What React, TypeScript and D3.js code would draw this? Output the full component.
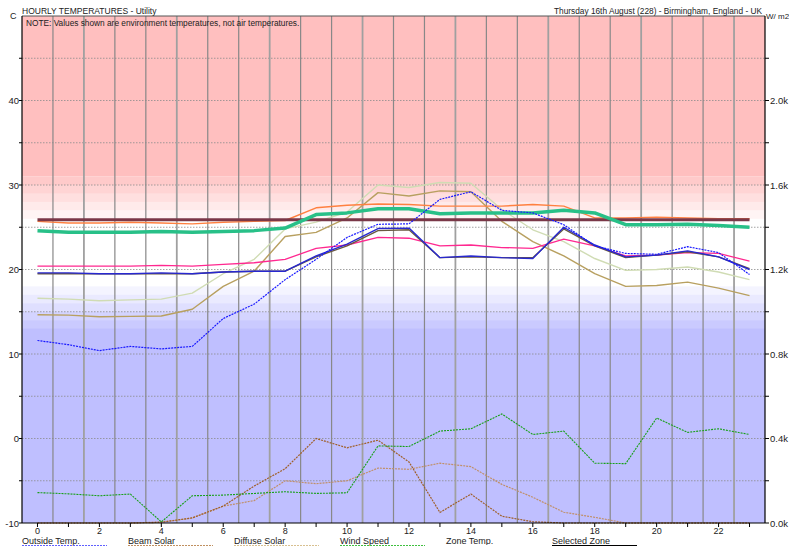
import React, { useEffect, useRef } from "react";
import * as d3 from "d3";

// hours of the day
const hours = [0, 1, 2, 3, 4, 5, 6, 7, 8, 9, 10, 11, 12, 13, 14, 15, 16, 17, 18, 19, 20, 21, 22, 23];
const xTickLabels = [0, 2, 4, 6, 8, 10, 12, 14, 16, 18, 20, 22];
const leftTickLabels = [-10, 0, 10, 20, 30, 40];
const rightTickLabels = [0, 0.4, 0.8, 1.2, 1.6, 2.0];

// temperatures (C)
const outsideTemp = [11.6, 11.1, 10.4, 10.9, 10.6, 10.9, 14.2, 15.9, 18.8, 21.2, 23.8, 25.35, 25.4, 28.3, 29.2, 27.0, 26.7, 25.3, 22.8, 21.9, 21.8, 22.7, 22.0, 19.4];
const zoneMaroon = [25.9, 25.9, 25.9, 25.9, 25.9, 25.9, 25.9, 25.9, 25.9, 25.9, 25.9, 25.9, 25.9, 25.9, 25.9, 25.9, 25.9, 25.9, 25.9, 25.9, 25.9, 25.9, 25.9, 25.9];
const zoneOrange = [25.7, 25.5, 25.5, 25.6, 25.5, 25.4, 25.6, 25.7, 25.8, 27.3, 27.6, 27.75, 27.7, 27.5, 27.5, 27.5, 27.7, 27.5, 26.1, 26.1, 26.2, 26.1, 26.0, 26.0];
const zoneGreen = [24.6, 24.4, 24.4, 24.4, 24.5, 24.4, 24.5, 24.6, 24.9, 26.5, 26.7, 27.2, 27.2, 26.6, 26.7, 26.7, 26.7, 27.0, 26.7, 25.3, 25.3, 25.35, 25.2, 25.0];
const zonePink = [20.4, 20.4, 20.4, 20.4, 20.5, 20.4, 20.6, 20.8, 21.2, 22.5, 22.9, 23.8, 23.7, 22.8, 22.9, 22.6, 22.5, 23.6, 22.8, 21.6, 21.7, 22.0, 21.9, 21.0];
const zonePale = [16.6, 16.5, 16.3, 16.4, 16.5, 17.2, 19.5, 21.2, 24.8, 25.6, 26.8, 30.0, 29.7, 30.3, 30.2, 27.1, 24.7, 23.3, 21.3, 19.9, 20.0, 20.3, 19.7, 18.8];
const zoneKhaki = [14.65, 14.6, 14.4, 14.45, 14.5, 15.3, 18.0, 19.8, 23.9, 24.4, 26.1, 29.1, 28.7, 29.3, 29.2, 25.7, 23.3, 21.6, 19.5, 18.0, 18.1, 18.5, 17.8, 16.9];
const zoneNavy = [19.6, 19.6, 19.5, 19.5, 19.6, 19.5, 19.7, 19.8, 19.8, 21.6, 23.0, 24.85, 24.9, 21.4, 21.6, 21.4, 21.3, 25.0, 22.9, 21.5, 21.7, 22.2, 21.5, 20.0];
const selectedZone = [19.5, 19.5, 19.5, 19.5, 19.5, 19.5, 19.7, 19.8, 19.8, 21.5, 22.8, 24.6, 24.7, 21.4, 21.5, 21.4, 21.4, 24.8, 22.8, 21.4, 21.7, 22.1, 21.5, 20.1];

// W/m2 (k)
const beamSolar = [0, 0, 0, 0, 0.003, 0.024, 0.08, 0.175, 0.257, 0.4, 0.356, 0.392, 0.289, 0.05, 0.137, 0.032, 0.006, 0, 0, 0, 0, 0, 0, 0];
const diffuseSolar = [0, 0, 0, 0, 0.005, 0.024, 0.08, 0.106, 0.2, 0.186, 0.2, 0.26, 0.254, 0.283, 0.267, 0.183, 0.122, 0.051, 0.027, 0, 0, 0, 0, 0];
const windSpeed = [0.144, 0.138, 0.129, 0.137, 0.005, 0.129, 0.132, 0.14, 0.148, 0.14, 0.143, 0.365, 0.362, 0.435, 0.446, 0.516, 0.419, 0.435, 0.283, 0.281, 0.497, 0.429, 0.446, 0.419];

const legendItems = [
  { label: "Outside Temp.", color: "#6060ff", dash: "2,1" },
  { label: "Beam Solar", color: "#c09060", dash: "2,1" },
  { label: "Diffuse Solar", color: "#d8c090", dash: "2,1" },
  { label: "Wind Speed", color: "#40c040", dash: "2,1" },
  { label: "Zone Temp.", color: "#ffffff", dash: null },
  { label: "Selected Zone", color: "#000000", dash: null },
];

const FONT = "'Liberation Sans', Arial, sans-serif";

const App = () => {
  const chartRef = useRef<SVGSVGElement>(null);

  useEffect(() => {
    const width = 789;
    const height = 546;
    const left = 22;
    const right = 765;
    const top = 16;
    const bottom = 523;

    const svg = d3.select(chartRef.current).attr("width", width).attr("height", height);
    svg.selectAll("*").remove();

    const x = d3.scaleLinear().domain([-0.5, 23.5]).range([left, right]);
    const y = d3.scaleLinear().domain([-10, 50]).range([bottom, top]);
    const yR = d3.scaleLinear().domain([0, 2.4]).range([bottom, top]);

    // background bands
    const pink = "#ffbfbf";
    const blue = "#bfbfff";
    svg.append("rect")
      .attr("x", left).attr("y", y(50))
      .attr("width", right - left).attr("height", y(31) - y(50))
      .attr("fill", pink);
    for (let k = 0; k < 5; k++) {
      svg.append("rect")
        .attr("x", left).attr("y", y(31 - k))
        .attr("width", right - left).attr("height", y(30 - k) - y(31 - k) + 0.5)
        .attr("fill", d3.interpolateRgb("#ffffff", pink)((5 - k) / 6));
    }
    svg.append("rect")
      .attr("x", left).attr("y", y(26))
      .attr("width", right - left).attr("height", y(18) - y(26))
      .attr("fill", "#ffffff");
    for (let k = 0; k < 5; k++) {
      svg.append("rect")
        .attr("x", left).attr("y", y(18 - k))
        .attr("width", right - left).attr("height", y(17 - k) - y(18 - k) + 0.5)
        .attr("fill", d3.interpolateRgb("#ffffff", blue)((k + 1) / 6));
    }
    svg.append("rect")
      .attr("x", left).attr("y", y(13))
      .attr("width", right - left).attr("height", y(-10) - y(13))
      .attr("fill", blue);

    // horizontal dotted grid
    d3.range(-5, 50, 5).forEach((v) => {
      svg.append("line")
        .attr("x1", left).attr("x2", right)
        .attr("y1", y(v)).attr("y2", y(v))
        .attr("stroke", "#8c8c8c")
        .attr("stroke-width", 0.8)
        .attr("stroke-dasharray", "1.5,1.5");
    });

    // vertical grid at half hours
    hours.slice(0, 23).forEach((h, i) => {
      svg.append("line")
        .attr("x1", x(h + 0.5)).attr("x2", x(h + 0.5))
        .attr("y1", top).attr("y2", bottom)
        .attr("stroke", i % 3 === 1 ? "#a0a0a0" : "#888888")
        .attr("stroke-width", i % 3 === 1 ? 1.8 : 1.2);
    });

    // right axis series
    const lineR = d3.line<number>().x((d, i) => x(hours[i])).y((d) => yR(d));
    const lineT = d3.line<number>().x((d, i) => x(hours[i])).y((d) => y(d));

    const drawR = (data: number[], color: string, w = 1) =>
      svg.append("path").datum(data)
        .attr("fill", "none").attr("stroke", color)
        .attr("stroke-width", w).attr("stroke-dasharray", "2,1")
        .attr("d", lineR);

    drawR(diffuseSolar, "#c0906a", 1.2);
    drawR(beamSolar, "#a0602a", 1.2);
    drawR(windSpeed, "#18a018", 1.1);

    const drawT = (data: number[], color: string, w = 1.2, dash: string | null = null) =>
      svg.append("path").datum(data)
        .attr("fill", "none").attr("stroke", color)
        .attr("stroke-width", w)
        .attr("stroke-dasharray", dash)
        .attr("stroke-linejoin", "round")
        .attr("d", lineT);

    drawT(zoneKhaki, "#b8a060", 1.4);
    drawT(zonePale, "#d0dcb4", 1.4);
    drawT(zonePink, "#ff2890", 1.3);
    drawT(zoneOrange, "#ff8040", 1.4);
    drawT(zoneMaroon, "#7a3848", 3);
    drawT(zoneGreen, "#28c088", 3.5);
    drawT(selectedZone, "#6a5a40", 1.4);
    drawT(zoneNavy, "#2828d0", 1.4);
    drawT(outsideTemp, "#1818ff", 1.2, "2,1");

    // frame
    svg.append("line").attr("x1", left).attr("x2", right).attr("y1", top).attr("y2", top)
      .attr("stroke", "#555").attr("stroke-width", 1);
    svg.append("line").attr("x1", left).attr("x2", left).attr("y1", top).attr("y2", bottom)
      .attr("stroke", "#000").attr("stroke-width", 1.2);
    svg.append("line").attr("x1", right).attr("x2", right).attr("y1", top).attr("y2", bottom)
      .attr("stroke", "#000").attr("stroke-width", 1.2);
    svg.append("line").attr("x1", left).attr("x2", right).attr("y1", bottom).attr("y2", bottom)
      .attr("stroke", "#000").attr("stroke-width", 1.2);

    // left axis
    d3.range(-10, 50, 5).forEach((v) => {
      svg.append("line").attr("x1", left - 3).attr("x2", left)
        .attr("y1", y(v)).attr("y2", y(v)).attr("stroke", "#000");
    });
    leftTickLabels.forEach((v) => {
      svg.append("text").attr("x", left - 3).attr("y", y(v) + 3.5)
        .attr("text-anchor", "end").attr("font-family", FONT).attr("font-size", 9.5)
        .attr("fill", "#222").text(v);
    });

    // right axis
    d3.range(0, 2.4, 0.2).forEach((v) => {
      svg.append("line").attr("x1", right).attr("x2", right + 4)
        .attr("y1", yR(v)).attr("y2", yR(v)).attr("stroke", "#000");
    });
    rightTickLabels.forEach((v) => {
      svg.append("text").attr("x", right + 5).attr("y", yR(v) + 3.5)
        .attr("font-family", FONT).attr("font-size", 9.5)
        .attr("fill", "#222").text(`${v.toFixed(1)}k`);
    });

    // bottom axis
    hours.forEach((h) => {
      svg.append("line").attr("x1", x(h)).attr("x2", x(h))
        .attr("y1", bottom).attr("y2", bottom + 4).attr("stroke", "#000");
    });
    xTickLabels.forEach((h) => {
      svg.append("text").attr("x", x(h)).attr("y", bottom + 10.5)
        .attr("text-anchor", "middle").attr("font-family", FONT).attr("font-size", 9)
        .attr("fill", "#222").text(h);
    });

    // header
    svg.append("text").attr("x", 10).attr("y", 19).attr("font-family", FONT)
      .attr("font-size", 9).attr("fill", "#222").text("C");
    svg.append("text").attr("x", 22).attr("y", 14).attr("font-family", FONT)
      .attr("font-size", 8.5).attr("fill", "#222").text("HOURLY TEMPERATURES - Utility");
    svg.append("text").attr("x", 26).attr("y", 26).attr("font-family", FONT)
      .attr("font-size", 8.3).attr("fill", "#222")
      .text("NOTE: Values shown are environment temperatures, not air temperatures.");
    svg.append("text").attr("x", 762).attr("y", 14).attr("text-anchor", "end")
      .attr("font-family", FONT).attr("font-size", 8.3).attr("fill", "#222")
      .text("Thursday 16th August (228) - Birmingham, England - UK");
    svg.append("text").attr("x", 766).attr("y", 19).attr("font-family", FONT)
      .attr("font-size", 8).attr("fill", "#222").text("W/ m2");

    // legend
    legendItems.forEach((d, i) => {
      const lx = 22 + i * 106;
      svg.append("text").attr("x", lx).attr("y", 544).attr("font-family", FONT)
        .attr("font-size", 9).attr("fill", "#222").text(d.label);
      svg.append("line").attr("x1", lx).attr("x2", lx + 85)
        .attr("y1", 545.5).attr("y2", 545.5)
        .attr("stroke", d.color).attr("stroke-width", 1)
        .attr("stroke-dasharray", d.dash);
    });
  }, []);

  return (
    <div style={{ position: "absolute", left: 0, top: 0 }}>
      <svg ref={chartRef} style={{ display: "block" }}></svg>
    </div>
  );
};

export default App;
